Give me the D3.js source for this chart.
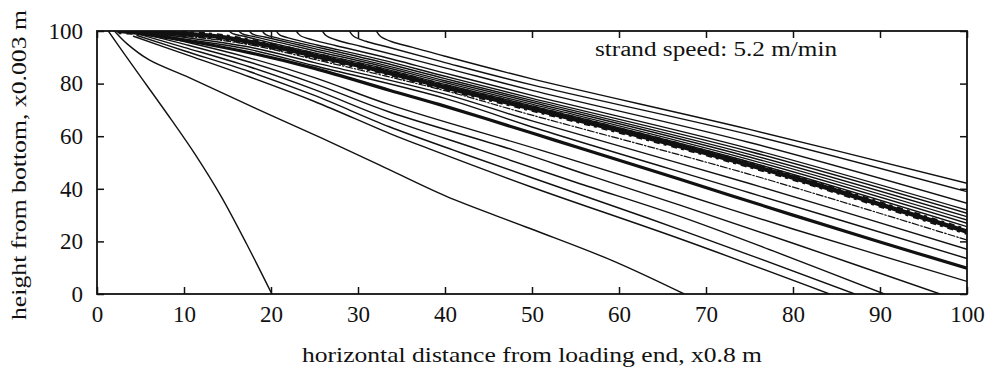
<!DOCTYPE html>
<html>
<head>
<meta charset="utf-8">
<script src="https://cdn.jsdelivr.net/npm/d3@7/dist/d3.min.js"></script>
<style>
  body { margin: 0; background: #fff; }
</style>
</head>
<body>
<svg id="chart" width="996" height="370"></svg>
<script>
const xTicks = [0, 10, 20, 30, 40, 50, 60, 70, 80, 90, 100];
const yTicks = [0, 20, 40, 60, 80, 100];

// contour lines, [x, y]
const lineSteep = [[1.3,100],[3.2,91],[5.8,79],[8.6,66],[11.3,53],[14.2,37.5],[17.2,19],[20.1,0]];
const lineLow = [[2,100],[3.5,95],[6,89],[10.6,82.3],[18.3,70.5],[25.9,59.2],[32.5,49],[40.1,37.2],[49.7,25],[59.3,12.6],[67.5,0]];
const lineA = [[4.2,98],[10,91.3],[17.5,82.6],[25,73.2],[33.6,61.1],[38.5,54.8],[50,40.6],[67,21],[84.2,0]];
const lineB = [[4.6,98.3],[10,92.5],[17.5,84.6],[25,75.5],[33.6,63.6],[40.9,54.8],[50,44.2],[67,24.5],[87.1,0]];
const lineC = [[5,98.6],[10,93.8],[17.5,86.4],[25,77.7],[33.6,66.4],[44,54.8],[55,42.5],[67,29.5],[78,16],[90.5,0]];
const lineD = [[5.4,98.8],[10,95],[17.5,88.2],[25,80],[33.6,69.2],[47.8,54.8],[57,44.6],[67,33.8],[80,19.3],[96.9,0]];
const lineE = [[5.8,99],[10,96],[17.5,89.8],[25,82.3],[33.6,72],[50.9,54.8],[67,38.3],[80,24.7],[100,4.8]];
const lineG = [[2.5,100],[6,98.5],[10,96.5],[17.5,91.8],[25,85.8],[33.6,77.5],[39.4,72],[50,61.2],[55.5,55.5],[67,43.6],[80,30],[90,19.8],[100,9.8]];
const lineH = [[5,99.5],[10,97],[17.5,93],[25,86.8],[40,74.4],[50,63.5],[75,38.5],[100,13.5]];
const lineI = [[5.5,99.7],[10,97.6],[17.5,93.9],[25,88],[40,76],[50,65.8],[75,42],[100,17]];
const lineJ = [[6,99.8],[10,98.2],[17.5,94.8],[25,89.2],[40,77.3],[50,68],[75,45.5],[100,20.5]];
const lineK = [[2.5,100],[8,99.3],[14,97.8],[20,94.3],[25,90.6],[32.5,85],[40,78.6],[50,70.5],[60,62.2],[70,53.6],[80,44.3],[90,34.1],[100,23.7]];
const lineU1 = [[15.2,100],[15.6,99],[17,97.9],[20,95.5],[25,91.7],[32.5,86.1],[40,79.7],[50,71.5],[75,50.2],[100,25.6]];
const lineU2 = [[16.3,100],[16.7,98.9],[18,97.9],[21,95.6],[25,92.5],[32.5,86.8],[40,80.4],[50,72.2],[75,51.1],[100,26.9]];
const lineU3 = [[17.5,100],[17.9,98.8],[19.3,97.7],[22.3,95.4],[25,93.3],[32.5,87.5],[40,81.1],[50,72.9],[75,52.1],[100,28.1]];
const lineU4 = [[19,100],[19.4,98.6],[20.8,97.3],[23.8,95],[32.5,88.3],[40,81.9],[50,73.6],[75,53.1],[100,29.4]];
const lineU5 = [[20.6,100],[21,98.5],[22.4,97],[25.4,94.6],[32.5,89.2],[40,82.8],[50,74.4],[75,54.2],[100,30.7]];
const lineU6 = [[22.9,100],[23.4,98.2],[24.8,96.6],[27.5,94.4],[32.5,90.5],[40,84],[50,75.5],[75,55.3],[100,31.9]];
const lineU7 = [[25.9,100],[26.4,98.1],[27.8,96.3],[30.4,94.1],[40,86],[50,77.4],[75,57.6],[100,34.5]];
const lineU8 = [[29,100],[29.5,98],[30.9,96.1],[33.4,93.9],[40,88],[50,79.5],[75,60.6],[100,38.9]];
const lineU9 = [[32.1,100],[32.6,97.9],[33.9,95.9],[36.3,93.8],[40,90.4],[50,81.8],[75,62.6],[100,42.1]];

const thinLines = [lineSteep, lineLow, lineA, lineB, lineC, lineD, lineE, lineH, lineI,
  lineU1, lineU2, lineU3, lineU4, lineU5, lineU6, lineU7, lineU8, lineU9];

const font = "Liberation Serif";

const svg = d3.select("#chart"),
  margin = {top: 31, right: 29, bottom: 76, left: 97},
  width = 996,
  height = 370;

const x = d3.scaleLinear().domain([0, 100]).range([margin.left, width - margin.right]);
const y = d3.scaleLinear().domain([0, 100]).range([height - margin.bottom, margin.top]);

svg.append("defs").append("clipPath").attr("id", "plot")
  .append("rect")
  .attr("x", x(0)).attr("y", y(100))
  .attr("width", x(100) - x(0)).attr("height", y(0) - y(100));

const line = d3.line()
  .x(d => x(d[0]))
  .y(d => y(d[1]))
  .curve(d3.curveCatmullRom.alpha(0.5));

const g = svg.append("g").attr("clip-path", "url(#plot)")
  .attr("fill", "none").attr("stroke", "#111")
  .attr("stroke-linejoin", "round").attr("stroke-linecap", "round");

g.selectAll("path.thin")
  .data(thinLines)
  .join("path")
  .attr("class", "thin")
  .attr("stroke-width", 1.4)
  .attr("d", line);

g.append("path").datum(lineJ)
  .attr("stroke-width", 1.2)
  .attr("stroke-dasharray", "7,2,1.5,2")
  .attr("d", line);

g.append("path").datum(lineG)
  .attr("stroke-width", 3.2)
  .attr("d", line);

g.append("path").datum(lineK)
  .attr("stroke-width", 4.5)
  .attr("d", line);
// ragged edge of the dense band
g.append("path").datum(lineK)
  .attr("stroke-width", 6.5)
  .attr("stroke-dasharray", "3,5,6,4")
  .attr("stroke-linecap", "butt")
  .attr("d", line);

// frame with inward ticks on all four sides
const xAxis = d3.axisBottom(x).tickValues(xTicks).tickSizeInner(-7).tickSizeOuter(0).tickPadding(12);
const yAxis = d3.axisLeft(y).tickValues(yTicks).tickSizeInner(-7).tickSizeOuter(0).tickPadding(14);

svg.append("g")
  .attr("transform", `translate(0,${height - margin.bottom})`)
  .call(xAxis)
  .attr("font-family", font).attr("font-size", 23);

svg.append("g")
  .attr("transform", `translate(${margin.left},0)`)
  .call(yAxis)
  .attr("font-family", font).attr("font-size", 23);

svg.append("g")
  .attr("transform", `translate(0,${margin.top})`)
  .call(d3.axisTop(x).tickValues(xTicks).tickSizeInner(-7).tickSizeOuter(0).tickFormat(""));

svg.append("g")
  .attr("transform", `translate(${width - margin.right},0)`)
  .call(d3.axisRight(y).tickValues(yTicks).tickSizeInner(-7).tickSizeOuter(0).tickFormat(""));

svg.selectAll(".tick text").attr("fill", "#111");
svg.selectAll(".tick line").attr("stroke", "#111").attr("stroke-width", 1.5);
svg.selectAll(".domain").remove();

svg.append("rect")
  .attr("x", x(0)).attr("y", y(100))
  .attr("width", x(100) - x(0)).attr("height", y(0) - y(100))
  .attr("fill", "none").attr("stroke", "#111").attr("stroke-width", 1.8);

svg.append("text")
  .attr("x", 595).attr("y", 56)
  .attr("font-family", font).attr("font-size", 20).attr("fill", "#111")
  .attr("textLength", 242).attr("lengthAdjust", "spacingAndGlyphs")
  .text("strand speed: 5.2 m/min");

svg.append("text")
  .attr("x", (x(0) + x(100)) / 2).attr("y", 362)
  .attr("text-anchor", "middle")
  .attr("font-family", font).attr("font-size", 21).attr("fill", "#111")
  .attr("textLength", 460).attr("lengthAdjust", "spacingAndGlyphs")
  .text("horizontal distance from loading end,  x0.8 m");

svg.append("text")
  .attr("transform", "translate(26,165) rotate(-90)")
  .attr("text-anchor", "middle")
  .attr("font-family", font).attr("font-size", 21).attr("fill", "#111")
  .attr("textLength", 310).attr("lengthAdjust", "spacingAndGlyphs")
  .text("height from bottom,  x0.003 m");
</script>
</body>
</html>
